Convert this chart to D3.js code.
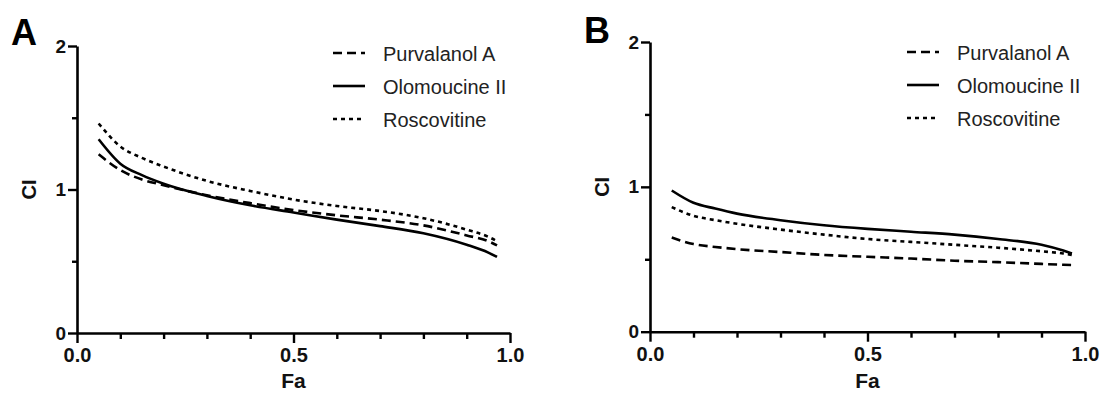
<!DOCTYPE html>
<html>
<head>
<meta charset="utf-8">
<script src="https://cdn.jsdelivr.net/npm/d3@7"></script>
<style>
  html, body { margin: 0; padding: 0; background: #fff; }
  svg { display: block; }
  text { font-family: "Liberation Sans", Arial, sans-serif; }
</style>
</head>
<body>
<svg id="chart" width="1102" height="398"></svg>
<script>
// ---- Data ----
const fa = [0.05, 0.1, 0.15, 0.2, 0.3, 0.4, 0.5, 0.6, 0.7, 0.8, 0.9, 0.95, 0.97];

const seriesNames = ["Purvalanol A", "Olomoucine II", "Roscovitine"];

// Panel A
const aPurvalanol  = [1.245, 1.135, 1.07, 1.03, 0.96, 0.905, 0.857, 0.82, 0.79, 0.75, 0.68, 0.64, 0.61];
const aOlomoucine  = [1.35, 1.18, 1.10, 1.04, 0.955, 0.89, 0.84, 0.79, 0.745, 0.695, 0.615, 0.56, 0.53];
const aRoscovitine = [1.46, 1.30, 1.22, 1.16, 1.06, 0.99, 0.93, 0.885, 0.85, 0.80, 0.72, 0.67, 0.64];

// Panel B
const bPurvalanol  = [0.65, 0.605, 0.585, 0.57, 0.55, 0.53, 0.517, 0.505, 0.49, 0.48, 0.468, 0.462, 0.46];
const bOlomoucine  = [0.975, 0.89, 0.85, 0.815, 0.77, 0.735, 0.71, 0.69, 0.67, 0.64, 0.60, 0.56, 0.54];
const bRoscovitine = [0.86, 0.80, 0.77, 0.745, 0.705, 0.67, 0.64, 0.62, 0.60, 0.58, 0.555, 0.54, 0.53];

const xMajorTicks = [0, 0.5, 1.0];
const xMinorTicks = [0.1, 0.2, 0.3, 0.4, 0.6, 0.7, 0.8, 0.9];
const yMajorTicks = [0, 1, 2];
const yMinorTicks = [0.5, 1.5];

const panelLabels = ["A", "B"];
const xTitle = "Fa";
const yTitle = "CI";

// ---- Styles ----
const dashStyles = { "Purvalanol A": "9,5", "Olomoucine II": null, "Roscovitine": "4,4" };

const svg = d3.select("#chart");

const panels = [
  { label: panelLabels[0], x0: 77, x1: 510, y0: 333, y1: 46,
    series: [aPurvalanol, aOlomoucine, aRoscovitine],
    letterX: 11, letterY: 45, legendX: 333, legendY: 53, yTitleX: 36 },
  { label: panelLabels[1], x0: 650, x1: 1085, y0: 331.7, y1: 42,
    series: [bPurvalanol, bOlomoucine, bRoscovitine],
    letterX: 584, letterY: 43, legendX: 907, legendY: 52, yTitleX: 609 }
];

panels.forEach(p => {
  const x = d3.scaleLinear().domain([0, 1]).range([p.x0, p.x1]);
  const y = d3.scaleLinear().domain([0, 2]).range([p.y0, p.y1]);
  const g = svg.append("g");

  // curves
  const line = d3.line()
    .x(d => x(d[0])).y(d => y(d[1]))
    .curve(d3.curveMonotoneX);
  seriesNames.forEach((name, i) => {
    const pts = fa.map((f, k) => [f, p.series[i][k]]);
    g.append("path")
      .datum(pts)
      .attr("d", line)
      .attr("fill", "none")
      .attr("stroke", "#000")
      .attr("stroke-width", 2.6)
      .attr("stroke-dasharray", dashStyles[name]);
  });

  // x axis: minor
  g.append("g").attr("transform", `translate(0,${p.y0})`)
    .call(d3.axisBottom(x).tickValues(xMinorTicks).tickSize(6).tickFormat(""))
    .call(s => s.select(".domain").remove())
    .call(s => s.selectAll("line").attr("stroke", "#000").attr("stroke-width", 2.4));
  // x axis: major
  g.append("g").attr("transform", `translate(0,${p.y0})`)
    .call(d3.axisBottom(x).tickValues(xMajorTicks).tickSize(10).tickSizeOuter(0)
      .tickPadding(5).tickFormat(d3.format(".1f")))
    .call(s => s.select(".domain").attr("stroke", "#000").attr("stroke-width", 2.6))
    .call(s => s.selectAll("line").attr("stroke", "#000").attr("stroke-width", 2.4))
    .call(s => s.selectAll("text").attr("font-size", 20).attr("font-weight", "bold")
      .attr("fill", "#111").attr("font-family", "Liberation Sans, Arial, sans-serif"));

  // y axis: minor
  g.append("g").attr("transform", `translate(${p.x0},0)`)
    .call(d3.axisLeft(y).tickValues(yMinorTicks).tickSize(5).tickFormat(""))
    .call(s => s.select(".domain").remove())
    .call(s => s.selectAll("line").attr("stroke", "#000").attr("stroke-width", 2.4));
  // y axis: major
  g.append("g").attr("transform", `translate(${p.x0},0)`)
    .call(d3.axisLeft(y).tickValues(yMajorTicks).tickSize(9).tickSizeOuter(0)
      .tickPadding(2).tickFormat(d3.format("d")))
    .call(s => s.select(".domain").attr("stroke", "#000").attr("stroke-width", 2.6))
    .call(s => s.selectAll("line").attr("stroke", "#000").attr("stroke-width", 2.4))
    .call(s => s.selectAll("text").attr("font-size", 19).attr("font-weight", "bold")
      .attr("fill", "#111").attr("font-family", "Liberation Sans, Arial, sans-serif"));

  // axis titles
  g.append("text")
    .attr("x", (p.x0 + p.x1) / 2).attr("y", 388)
    .attr("text-anchor", "middle")
    .attr("font-size", 21).attr("font-weight", "bold").attr("fill", "#111")
    .text(xTitle);
  g.append("text")
    .attr("transform", `translate(${p.yTitleX},${y(1)}) rotate(-90)`)
    .attr("text-anchor", "middle")
    .attr("font-size", 20).attr("font-weight", "bold").attr("fill", "#111")
    .text(yTitle);

  // panel letter
  g.append("text")
    .attr("x", p.letterX).attr("y", p.letterY)
    .attr("font-size", 36).attr("font-weight", "bold").attr("fill", "#000")
    .text(p.label);

  // legend
  seriesNames.forEach((name, i) => {
    const ly = p.legendY + i * 33;
    g.append("line")
      .attr("x1", p.legendX).attr("x2", p.legendX + 32)
      .attr("y1", ly).attr("y2", ly)
      .attr("stroke", "#000").attr("stroke-width", 2.6)
      .attr("stroke-dasharray", dashStyles[name]);
    g.append("text")
      .attr("x", p.legendX + 50).attr("y", ly + 7.5)
      .attr("font-size", 20).attr("fill", "#222")
      .text(name);
  });
});
</script>
</body>
</html>
